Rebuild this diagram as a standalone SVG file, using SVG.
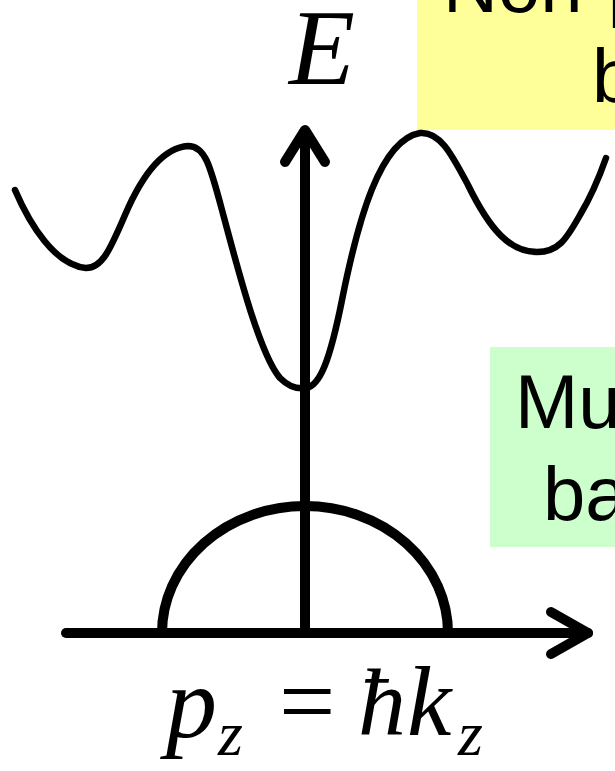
<svg xmlns="http://www.w3.org/2000/svg" width="615" height="771" viewBox="0 0 615 771">
<style>
.box-y{fill:#FFFF99;}
.box-g{fill:#CCFFCC;}
.lbl{font-family:"Liberation Sans",Arial,sans-serif;font-size:76px;fill:#000;}
.math{font-family:"Liberation Serif","Times New Roman",serif;font-style:italic;fill:#000;}
.axis{fill:none;stroke:#000;stroke-width:10;stroke-linecap:round;stroke-linejoin:round;}
.curve{fill:none;stroke:#000;stroke-width:6.5;stroke-linecap:round;stroke-linejoin:round;}
</style>
<rect width="615" height="771" fill="#fff"/>
<g id="node-nonparabolic">
<rect class="box-y" x="417" y="0" width="198" height="130"/>
<text class="lbl" x="443" y="12">Non-p</text>
<text class="lbl" x="592" y="102">b</text>
</g>
<g id="node-multiple">
<rect class="box-g" x="490" y="347" width="125" height="200"/>
<text class="lbl" x="515" y="428">Mu</text>
<text class="lbl" x="543" y="520">ba</text>
</g>
<g id="node-E-label">
<text class="math" x="289" y="84" font-size="108">E</text>
</g>
<g id="node-pz-label">
<text class="math" font-size="102" x="166" y="737">p</text>
<text class="math" font-size="64" x="218" y="755">z</text>
<text font-family="'Liberation Serif','Times New Roman',serif" font-size="100" x="279" y="735">=</text>
<text class="math" font-size="96" x="358" y="735">ħ</text>
<text class="math" font-size="100" x="407" y="735">k</text>
<text class="math" font-size="64" x="458" y="755">z</text>
</g>
<g id="node-upper-band">
<path class="curve" d="M15,190 C30,225 55,265 86,268 C102,268 110,250 125,215 C140,180 160,148 188,146 C205,146 210,165 222,210 C238,270 260,355 280,378 C290,388 300,389 306,388 C320,386 330,360 342,300 C358,220 380,140 420,133 C440,131 452,155 468,185 C490,230 510,252 537,252 C558,252 566,240 580,215 C592,195 600,175 606,158"/>
</g>
<g id="node-lower-band">
<path class="axis" d="M162,633 A143,127 0 0 1 448,633"/>
</g>
<g id="connectors">
<path class="axis" d="M305,633 L305,132" stroke-width="9"/>
<path class="axis" d="M285,162 L305,130 L325,162" stroke-width="9"/>
<path class="axis" d="M66,633 L588,633"/>
<path class="axis" d="M551,612 L588,633 L551,654"/>
</g>
</svg>
